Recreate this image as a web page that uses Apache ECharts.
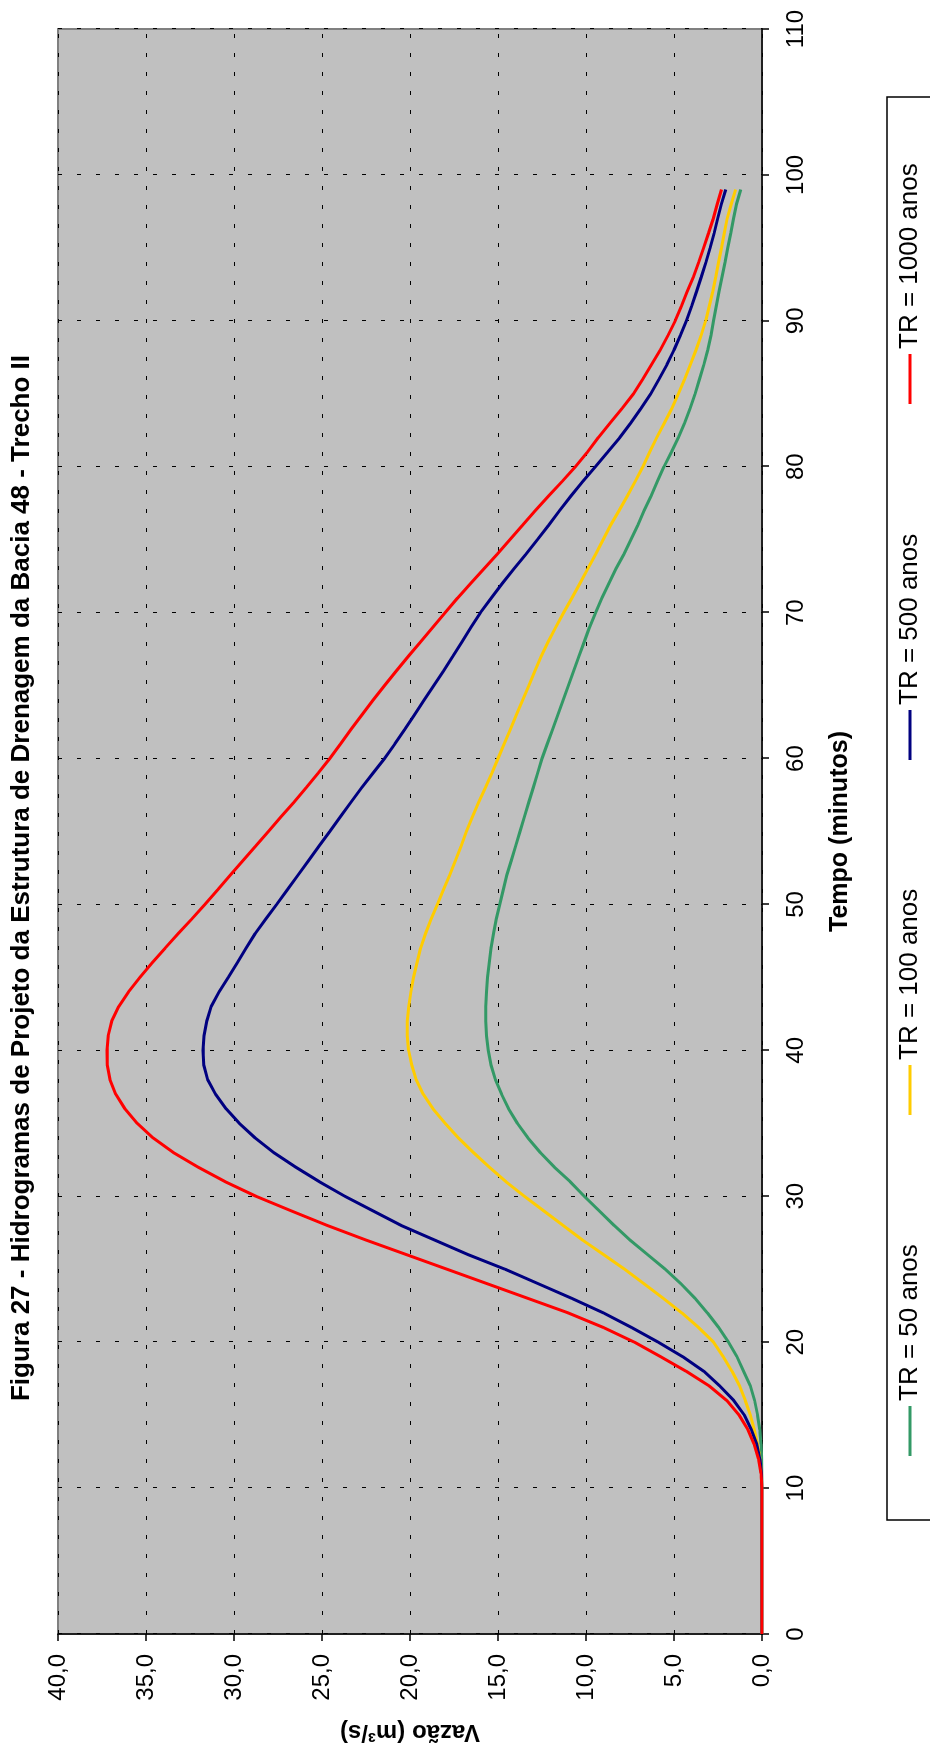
<!DOCTYPE html>
<html>
<head>
<meta charset="utf-8">
<title>Hidrogramas - Bacia 48 - Trecho II</title>
<script src="https://cdn.jsdelivr.net/npm/echarts@6/dist/echarts.min.js"></script>
<style>
  html, body { margin: 0; padding: 0; width: 930px; height: 1756px; overflow: hidden; background: #ffffff; }
  /* The hydrograph is laid out landscape and turned a quarter turn to sit on the portrait page. */
  #chart {
    position: absolute; left: 0; top: 0;
    width: 1756px; height: 930px;
    transform-origin: 0 0;
    transform: translate(0, 1756px) rotate(-90deg);
  }
</style>
</head>
<body>
<div id="chart"></div>
<script>
// Tempo (minutos)
const tempo = [
  0, 1, 2, 3, 4, 5, 6, 7, 8, 9,
  10, 11, 12, 13, 14, 15, 16, 17, 18, 19,
  20, 21, 22, 23, 24, 25, 26, 27, 28, 29,
  30, 31, 32, 33, 34, 35, 36, 37, 38, 39,
  40, 41, 42, 43, 44, 45, 46, 47, 48, 49,
  50, 51, 52, 53, 54, 55, 56, 57, 58, 59,
  60, 61, 62, 63, 64, 65, 66, 67, 68, 69,
  70, 71, 72, 73, 74, 75, 76, 77, 78, 79,
  80, 81, 82, 83, 84, 85, 86, 87, 88, 89,
  90, 91, 92, 93, 94, 95, 96, 97, 98, 99
];

// Vazão (m³/s) for each return period
const vazaoTR50 = [
  0, 0, 0, 0, 0, 0, 0, 0, 0, 0,
  0, 0, 0.02, 0.06, 0.13, 0.25, 0.42, 0.66, 1.04, 1.42,
  1.9, 2.46, 3.1, 3.8, 4.6, 5.5, 6.5, 7.5, 8.4, 9.25,
  10.1, 10.9, 11.8, 12.6, 13.3, 13.9, 14.4, 14.8, 15.15, 15.4,
  15.55, 15.65, 15.7, 15.7, 15.65, 15.6, 15.5, 15.4, 15.25, 15.1,
  14.9, 14.7, 14.5, 14.25, 14.0, 13.75, 13.5, 13.25, 13.0, 12.75,
  12.5, 12.2, 11.9, 11.6, 11.3, 11.0, 10.7, 10.4, 10.1, 9.8,
  9.45, 9.1, 8.7, 8.3, 7.85, 7.45, 7.05, 6.7, 6.3, 5.95,
  5.57, 5.15, 4.75, 4.4, 4.08, 3.8, 3.55, 3.3, 3.08, 2.9,
  2.75, 2.6, 2.44, 2.27, 2.1, 1.95, 1.78, 1.62, 1.45, 1.21
];
const vazaoTR100 = [
  0, 0, 0, 0, 0, 0, 0, 0, 0, 0,
  0, 0.03, 0.11, 0.25, 0.44, 0.66, 0.95, 1.27, 1.7, 2.2,
  2.75, 3.6, 4.55, 5.6, 6.7, 7.8, 9.0, 10.2, 11.3, 12.4,
  13.5, 14.55, 15.5, 16.4, 17.25, 18.0, 18.7, 19.25, 19.65, 19.9,
  20.08, 20.15, 20.15, 20.07, 19.95, 19.8, 19.6, 19.4, 19.12, 18.8,
  18.45, 18.1, 17.75, 17.42, 17.1, 16.8, 16.45, 16.1, 15.72, 15.35,
  15.0, 14.65, 14.3, 13.95, 13.6, 13.25, 12.9, 12.55, 12.15, 11.72,
  11.27, 10.8, 10.35, 9.9, 9.45, 9.03, 8.6, 8.12, 7.65, 7.2,
  6.77, 6.38, 5.98, 5.55, 5.12, 4.75, 4.4, 4.07, 3.75, 3.46,
  3.2, 3.0, 2.8, 2.63, 2.47, 2.3, 2.15, 1.98, 1.75, 1.5
];
const vazaoTR500 = [
  0, 0, 0, 0, 0, 0, 0, 0, 0, 0,
  0, 0.03, 0.12, 0.3, 0.6, 1.0, 1.6, 2.4, 3.3, 4.5,
  5.9, 7.4, 9.0, 10.8, 12.7, 14.6, 16.7, 18.6, 20.5, 22.1,
  23.7, 25.15, 26.5, 27.75, 28.8, 29.7, 30.45, 31.05, 31.5, 31.72,
  31.76, 31.7, 31.55, 31.3, 30.85, 30.33, 29.82, 29.32, 28.8, 28.2,
  27.58, 26.97, 26.37, 25.77, 25.17, 24.56, 23.96, 23.36, 22.75, 22.1,
  21.45, 20.86, 20.3, 19.75, 19.2, 18.65, 18.1, 17.57, 17.05, 16.53,
  16.0, 15.38, 14.76, 14.1, 13.42, 12.76, 12.12, 11.5, 10.85, 10.18,
  9.47, 8.77, 8.08, 7.46, 6.87, 6.32, 5.85, 5.4, 5.0, 4.64,
  4.3, 4.0, 3.72, 3.45, 3.19, 2.95, 2.72, 2.52, 2.31, 2.06
];
const vazaoTR1000 = [
  0, 0, 0, 0, 0, 0, 0, 0, 0, 0,
  0, 0.06, 0.2, 0.45, 0.8, 1.3, 2.0, 3.0, 4.3, 5.75,
  7.25, 9.0, 11.0, 13.3, 15.6, 17.9, 20.2, 22.5, 24.7, 26.75,
  28.75, 30.5, 32.05, 33.45, 34.6, 35.5, 36.2, 36.72, 37.05, 37.2,
  37.22, 37.15, 36.95, 36.55, 36.0, 35.35, 34.65, 33.92, 33.17, 32.4,
  31.65, 30.93, 30.22, 29.5, 28.77, 28.05, 27.33, 26.6, 25.9, 25.22,
  24.56, 23.95, 23.35, 22.73, 22.1, 21.45, 20.78, 20.1, 19.4, 18.7,
  18.0, 17.3, 16.55, 15.8, 15.05, 14.33, 13.6, 12.88, 12.12, 11.35,
  10.6, 9.92, 9.3, 8.63, 7.95, 7.3, 6.78, 6.28, 5.78, 5.34,
  4.93, 4.58, 4.25, 3.9, 3.6, 3.32, 3.04, 2.77, 2.54, 2.3
];

const nomesSeries = ['TR = 50 anos', 'TR = 100 anos', 'TR = 500 anos', 'TR = 1000 anos'];
const coresSeries = ['#339966', '#FFCC00', '#000080', '#FF0000'];
const valoresSeries = [vazaoTR50, vazaoTR100, vazaoTR500, vazaoTR1000];

// Axis tick labels
const rotulosTempo = ['0', '10', '20', '30', '40', '50', '60', '70', '80', '90', '100', '110'];
const rotulosVazao = ['0,0', '5,0', '10,0', '15,0', '20,0', '25,0', '30,0', '35,0', '40,0'];

// Left edge of each legend entry along the bottom strip
const legendaPosicoes = [300, 641, 996, 1352];

const FONT = "'Liberation Sans', Arial, Helvetica, sans-serif";

const chart = echarts.init(document.getElementById('chart'), null, { renderer: 'canvas' });

const series = nomesSeries.map((nome, i) => ({
  name: nome,
  type: 'line',
  data: tempo.map((t, k) => [t, valoresSeries[i][k]]),
  showSymbol: false,
  symbol: 'none',
  smooth: false,
  animation: false,
  lineStyle: { color: coresSeries[i], width: 3 },
  itemStyle: { color: coresSeries[i] },
  z: 3 + i
}));

const legends = nomesSeries.map((nome, i) => ({
  data: [nome],
  left: legendaPosicoes[i],
  top: 897,
  padding: 0,
  icon: 'rect',
  itemWidth: 50,
  itemHeight: 3,
  itemGap: 6,
  selectedMode: false,
  textStyle: { fontFamily: FONT, fontSize: 26, color: '#000' }
}));

const gridDash = { color: '#000', width: 1, type: [4, 15] };

chart.setOption({
  backgroundColor: '#ffffff',
  animation: false,
  title: {
    text: 'Figura 27 - Hidrogramas de Projeto da Estrutura de Drenagem da Bacia 48 - Trecho II',
    left: 'center',
    top: 9,
    padding: 0,
    textStyle: { fontFamily: FONT, fontSize: 26, fontWeight: 'bold', color: '#000' }
  },
  legend: legends,
  grid: {
    left: 122, right: 29, top: 58, bottom: 168,
    show: true,
    backgroundColor: '#C0C0C0',
    borderColor: '#808080',
    borderWidth: 2
  },
  xAxis: {
    type: 'value',
    min: 0, max: 110, interval: 10,
    name: 'Tempo (minutos)',
    nameLocation: 'middle',
    nameGap: 66,
    nameTextStyle: { fontFamily: FONT, fontSize: 25, fontWeight: 'bold', color: '#000' },
    axisLine: { show: true, onZero: false, lineStyle: { color: '#000', width: 1.5 } },
    axisTick: { show: true, inside: false, length: 7, lineStyle: { color: '#000', width: 1.5 } },
    axisLabel: {
      margin: 22,
      fontFamily: FONT, fontSize: 24, color: '#000',
      formatter: (v) => rotulosTempo[Math.round(v / 10)]
    },
    splitLine: { show: true, lineStyle: gridDash }
  },
  yAxis: {
    type: 'value',
    min: 0, max: 40, interval: 5,
    name: 'Vazão (m³/s)',
    nameLocation: 'middle',
    nameGap: 86,
    nameTextStyle: { fontFamily: FONT, fontSize: 24, fontWeight: 'bold', color: '#000' },
    axisLine: { show: true, onZero: false, lineStyle: { color: '#000', width: 1.5 } },
    axisTick: { show: true, inside: false, length: 7, lineStyle: { color: '#000', width: 1.5 } },
    axisLabel: {
      margin: 20,
      fontFamily: FONT, fontSize: 24, color: '#000',
      formatter: (v) => rotulosVazao[Math.round(v / 5)]
    },
    splitLine: { show: true, lineStyle: gridDash }
  },
  graphic: [{
    type: 'rect',
    shape: { x: 236, y: 887, width: 1423, height: 60 },
    style: { fill: 'none', stroke: '#000', lineWidth: 1.5 },
    silent: true,
    z: 1
  }],
  series: series
});
</script>
</body>
</html>
